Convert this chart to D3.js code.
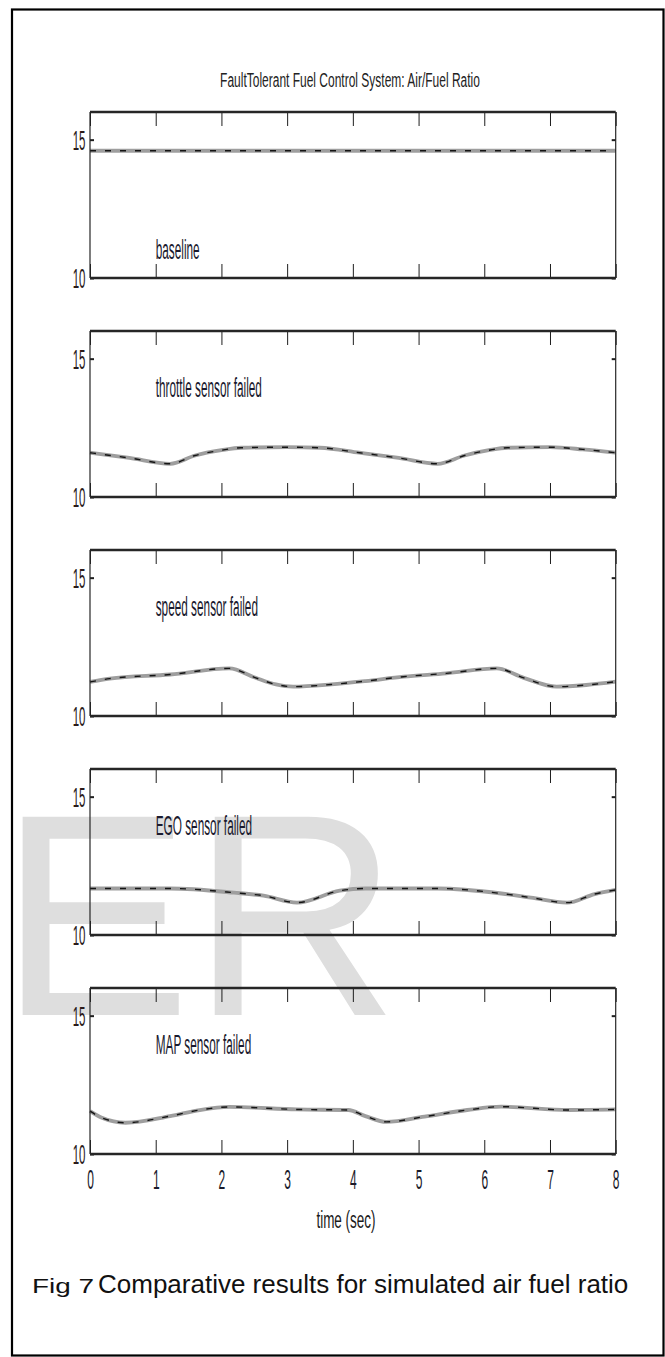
<!DOCTYPE html>
<html>
<head>
<meta charset="utf-8">
<script src="https://cdn.jsdelivr.net/npm/d3@7/dist/d3.min.js"></script>
<style>
  html, body { margin: 0; padding: 0; background: #fff; }
  svg { display: block; }
  text { font-family: "Liberation Sans", Arial, Helvetica, sans-serif; }
</style>
</head>
<body>
<svg id="afr-svg" width="665" height="1357"></svg>
<script>
// values
const time_ticks = [0, 1, 2, 3, 4, 5, 6, 7, 8]
const afr_ticks = [10, 15]
const afr_domain = [10, 16]
const panel_names = ["baseline", "throttle sensor failed", "speed sensor failed", "EGO sensor failed", "MAP sensor failed"]

const baseline_t = [0, 1, 2, 3, 4, 5, 6, 7, 8]
const baseline_afr = [14.6, 14.6, 14.6, 14.6, 14.6, 14.6, 14.6, 14.6, 14.6]

const throttle_t = [0, 0.6, 1.22, 1.6, 2.0, 2.3, 3.0, 3.5, 4.1, 4.7, 5.29, 5.7, 6.07, 6.35, 7.0, 7.5, 8.0]
const throttle_afr = [11.6, 11.41, 11.2, 11.5, 11.69, 11.78, 11.8, 11.78, 11.6, 11.41, 11.2, 11.5, 11.69, 11.78, 11.8, 11.72, 11.6]

const speed_t = [0, 0.3, 1.22, 2.12, 2.51, 2.83, 3.09, 3.67, 4.19, 4.77, 5.42, 6.19, 6.6, 7.1, 7.55, 8]
const speed_afr = [11.23, 11.35, 11.5, 11.72, 11.39, 11.14, 11.06, 11.14, 11.26, 11.42, 11.54, 11.72, 11.38, 11.06, 11.12, 11.24]

const ego_t = [0, 1.22, 2.19, 2.64, 3.15, 3.8, 4.19, 5.29, 6.26, 6.71, 7.26, 7.68, 8]
const ego_afr = [11.68, 11.68, 11.53, 11.42, 11.17, 11.6, 11.68, 11.68, 11.5, 11.35, 11.17, 11.48, 11.63]

const map_t = [0, 0.18, 0.54, 1.22, 1.67, 2.12, 3.15, 3.93, 4.19, 4.51, 5.09, 5.74, 6.26, 7.28, 8]
const map_afr = [11.55, 11.31, 11.13, 11.37, 11.59, 11.7, 11.61, 11.59, 11.37, 11.16, 11.35, 11.59, 11.71, 11.59, 11.61]

const title_text = "FaultTolerant Fuel Control System: Air/Fuel Ratio"
const x_label = "time (sec)"
const caption_fig = "Fig 7"
const caption_text = "Comparative results for simulated air fuel ratio"
const watermark_text = "ER"

const series_list = [
    [baseline_t, baseline_afr],
    [throttle_t, throttle_afr],
    [speed_t, speed_afr],
    [ego_t, ego_afr],
    [map_t, map_afr]
]

// layout (the original figure is stretched vertically, so texts get a y-scale)
const plot_left = 90, plot_right = 615.7
const panel_top0 = 112, panel_pitch = 219, panel_h = 166
const stretch = 2.35

const svg = d3.select("#afr-svg")

// watermark behind everything
svg.append("text")
    .attr("x", -1)
    .attr("y", 1015)
    .attr("font-size", 288)
    .attr("fill", "#dedede")
    .text(watermark_text)

// page frame
svg.append("rect")
    .attr("x", 12)
    .attr("y", 9.5)
    .attr("width", 651.5)
    .attr("height", 1346)
    .attr("fill", "none")
    .attr("stroke", "#000")
    .attr("stroke-width", 2.2)

const x = d3.scaleLinear().domain([0, 8]).range([plot_left, plot_right])

// title
svg.append("text")
    .attr("transform", `translate(350, 87.3) scale(1, 1.7)`)
    .attr("text-anchor", "middle")
    .attr("font-size", 12)
    .attr("fill", "#222")
    .text(title_text)

const line_gen = d3.line().curve(d3.curveMonotoneX)

series_list.forEach((s, i) => {
    const top = panel_top0 + i * panel_pitch
    const bottom = top + panel_h
    const y = d3.scaleLinear().domain(afr_domain).range([bottom, top])
    const g = svg.append("g").attr("class", "afr-panel")

    // curve: grey band + dark dashes on top
    const pts = s[0].map((t, k) => [x(t), y(s[1][k])])
    g.append("path")
        .attr("d", line_gen(pts))
        .attr("fill", "none")
        .attr("stroke", "#9e9e9e")
        .attr("stroke-width", 3.8)
    g.append("path")
        .attr("d", line_gen(pts))
        .attr("fill", "none")
        .attr("stroke", "#141414")
        .attr("stroke-width", 1.4)
        .attr("stroke-dasharray", "6 9")

    // x ticks, top and bottom, pointing inward
    const top_axis = g.append("g")
        .attr("transform", `translate(0, ${top})`)
        .call(d3.axisTop(x).tickValues(time_ticks).tickSizeInner(-14).tickSizeOuter(0).tickFormat(""))
    const bottom_axis = g.append("g")
        .attr("transform", `translate(0, ${bottom})`)
        .call(d3.axisBottom(x).tickValues(time_ticks).tickSizeInner(-14).tickSizeOuter(0)
            .tickFormat(i === series_list.length - 1 ? d3.format("d") : ""))
    const left_axis = g.append("g")
        .attr("transform", `translate(${plot_left}, 0)`)
        .call(d3.axisLeft(y).tickValues(afr_ticks).tickSizeInner(-4).tickSizeOuter(0).tickFormat(d3.format("d")))
    const right_axis = g.append("g")
        .attr("transform", `translate(${plot_right}, 0)`)
        .call(d3.axisRight(y).tickValues(afr_ticks).tickSizeInner(-4).tickSizeOuter(0).tickFormat(""))

    g.selectAll(".domain").remove()
    g.selectAll(".tick line").attr("stroke", "#1e1e1e").attr("stroke-width", 1)
    left_axis.selectAll(".tick line").attr("stroke-width", 2)
    right_axis.selectAll(".tick line").attr("stroke-width", 2)

    left_axis.selectAll(".tick text")
        .attr("x", null).attr("y", null).attr("dy", "0.36em")
        .attr("transform", `translate(-4.5, 0) scale(1, ${stretch})`)
        .attr("font-size", 11.5)
        .attr("font-family", null)
        .attr("fill", "#2a1a1a")
    bottom_axis.selectAll(".tick text")
        .attr("x", null).attr("y", null).attr("dy", "0.36em")
        .attr("transform", `translate(0, 25) scale(1, ${stretch})`)
        .attr("font-size", 12)
        .attr("font-family", null)
        .attr("fill", "#1a1a2a")

    // box: thick top/bottom, thin sides
    g.append("line").attr("x1", plot_left).attr("x2", plot_right).attr("y1", top).attr("y2", top)
        .attr("stroke", "#262626").attr("stroke-width", 2.6)
    g.append("line").attr("x1", plot_left).attr("x2", plot_right).attr("y1", bottom).attr("y2", bottom)
        .attr("stroke", "#262626").attr("stroke-width", 2.6)
    g.append("line").attr("x1", plot_left).attr("x2", plot_left).attr("y1", top).attr("y2", bottom)
        .attr("stroke", "#262626").attr("stroke-width", 1.2)
    g.append("line").attr("x1", plot_right).attr("x2", plot_right).attr("y1", top).attr("y2", bottom)
        .attr("stroke", "#262626").attr("stroke-width", 1.2)

    // panel label, placed like text(1, y) in data units
    g.append("text")
        .attr("transform", `translate(${x(1)}, ${y(i === 0 ? 10.7 : 13.6)}) scale(1, ${stretch})`)
        .attr("font-size", 11.8)
        .attr("fill", "#1a1a2e")
        .text(panel_names[i])
})

// x axis label
svg.append("text")
    .attr("transform", `translate(346, 1228.4) scale(1, 1.8)`)
    .attr("text-anchor", "middle")
    .attr("font-size", 13.5)
    .attr("fill", "#1a1a1a")
    .text(x_label)

// caption
svg.append("text")
    .attr("x", 32)
    .attr("y", 1293)
    .attr("font-size", 20)
    .attr("textLength", 62)
    .attr("lengthAdjust", "spacingAndGlyphs")
    .attr("fill", "#111")
    .text(caption_fig)
svg.append("text")
    .attr("x", 98)
    .attr("y", 1293)
    .attr("font-size", 26)
    .attr("fill", "#111")
    .text(caption_text)
</script>
</body>
</html>
